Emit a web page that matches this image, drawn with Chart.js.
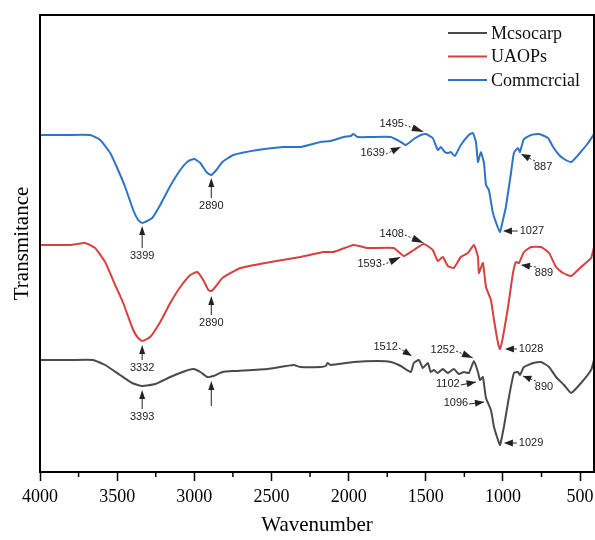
<!DOCTYPE html>
<html>
<head>
<meta charset="utf-8">
<script src="https://cdn.jsdelivr.net/npm/chart.js@4.4.0/dist/chart.umd.min.js"></script>
<style>
  html, body { margin: 0; padding: 0; background: #fff; }
  #wrap { width: 595px; height: 540px; }
</style>
</head>
<body>
<div id="wrap"><canvas id="ftir" width="595" height="540"></canvas></div>
<script>
// wavenumber (cm-1) and stacked transmittance (arbitrary units)
const mesocarpWn = [4000, 3805, 3656, 3578, 3481, 3403, 3338, 3253, 3156, 3058, 3006, 2961, 2916, 2877, 2818, 2747, 2526, 2357, 2312, 2182, 2149, 2136, 2117, 1968, 1812, 1727, 1662, 1597, 1578, 1545, 1519, 1487, 1468, 1448, 1422, 1390, 1357, 1318, 1286, 1253, 1221, 1188, 1162, 1149, 1130, 1110, 1078, 1058, 1032, 1019, 994, 961, 929, 903, 890, 864, 805, 753, 701, 656, 604, 558, 494, 429, 410];
const mesocarpT = [112, 112, 112, 107, 97, 89, 86, 88, 95, 101, 103, 100, 95, 96, 100, 101, 103, 107, 105, 105, 106, 109, 107, 110, 111, 110, 106, 100, 109, 112, 104, 109, 100, 102, 99, 103, 99, 103, 98, 100, 99, 111, 100, 92, 95, 74, 62, 45, 32, 27, 45, 75, 99, 100, 97, 105, 109, 110, 105, 95, 87, 79, 89, 102, 112];

const uaopsWn = [4000, 3805, 3708, 3643, 3578, 3513, 3461, 3396, 3364, 3338, 3286, 3221, 3156, 3091, 3026, 2981, 2942, 2909, 2890, 2864, 2818, 2701, 2506, 2312, 2162, 2097, 1968, 1877, 1708, 1643, 1578, 1513, 1455, 1422, 1390, 1357, 1318, 1273, 1227, 1188, 1162, 1156, 1130, 1110, 1078, 1058, 1032, 1019, 1000, 967, 935, 916, 896, 864, 818, 753, 701, 656, 610, 558, 494, 429, 410];
const uaopsT = [227, 227, 229, 224, 210, 187, 169, 142, 134, 131, 135, 150, 169, 185, 197, 200, 192, 182, 181, 185, 194, 204, 210, 215, 220, 220, 227, 224, 224, 216, 222, 228, 222, 211, 215, 206, 204, 215, 219, 227, 215, 199, 209, 185, 172, 152, 129, 123, 135, 165, 199, 210, 209, 220, 225, 225, 219, 205, 199, 196, 205, 214, 225];

const commercialWn = [4000, 3831, 3675, 3610, 3545, 3494, 3448, 3396, 3364, 3338, 3273, 3221, 3156, 3091, 3039, 3000, 2961, 2922, 2890, 2857, 2818, 2747, 2591, 2422, 2312, 2182, 2117, 2032, 1987, 1968, 1942, 1857, 1727, 1662, 1630, 1578, 1532, 1500, 1455, 1422, 1403, 1377, 1357, 1338, 1312, 1273, 1221, 1195, 1175, 1162, 1143, 1123, 1110, 1091, 1065, 1032, 1019, 1000, 981, 948, 929, 903, 890, 864, 818, 766, 708, 675, 636, 604, 558, 513, 448, 410];
const commercialT = [337, 337, 337, 332, 319, 302, 285, 262, 252, 249, 254, 267, 286, 302, 311, 313, 309, 300, 297, 302, 310, 317, 322, 325, 325, 330, 331, 335, 336, 338, 335, 335, 335, 330, 327, 333, 337, 338, 334, 322, 325, 320, 319, 320, 316, 327, 337, 339, 330, 310, 320, 309, 287, 282, 259, 244, 240, 252, 265, 299, 319, 324, 320, 333, 337, 338, 334, 325, 317, 313, 310, 317, 329, 338];

const seriesNames = ["Mcsocarp", "UAOPs", "Commcrcial"];
const seriesColors = ["#4a4a4a", "#d8403f", "#2f74c4"];

const xTicks = [4000, 3500, 3000, 2500, 2000, 1500, 1000, 500];
const xMinorTicks = [3750, 3250, 2750, 2250, 1750, 1250, 750];

// peak labels: text, arrow tip (wn, T), label position (wn, T), arrow kind
const peakText = ["3399", "2890", "1495", "1639", "1027", "887",
                  "3332", "2890", "1408", "1593", "1028", "889",
                  "3393", "", "1512", "1252", "1102", "1096", "1029", "890"];
const peakTipWn = [3338, 2890, 1513, 1662, 1000, 883,
                   3338, 2890, 1513, 1662, 987, 883,
                   3338, 2890, 1591, 1195, 1175, 1123, 994, 870];
const peakTipT = [246, 294, 340, 325, 241, 318,
                  127, 176, 229, 215, 123, 207,
                  82, 91, 116, 114, 90, 70, 29, 96];
const peakTextWn = [3338, 2890, 1721, 1844, 812, 740,
                    3338, 2890, 1721, 1864, 818, 734,
                    3338, 2890, 1760, 1390, 1357, 1305, 818, 734];
const peakTextT = [216, 266, 348, 319, 241, 305,
                   104, 149, 238, 208, 123, 199,
                   55, 66, 125, 122, 88, 69, 29, 85];
const peakKind = ["up", "up", "dash", "dash", "left", "dash",
                  "up", "up", "dash", "dash", "left", "dash",
                  "up", "up", "dash", "dash", "solid", "solid", "left", "dash"];

const toPoints = (wn, t) => wn.map((w, i) => ({ x: w, y: t[i] }));

function arrowHead(ctx, x0, y0, x1, y1, len, half) {
    const a = Math.atan2(y1 - y0, x1 - x0);
    ctx.beginPath();
    ctx.moveTo(x1, y1);
    ctx.lineTo(x1 - len * Math.cos(a) + half * Math.sin(a), y1 - len * Math.sin(a) - half * Math.cos(a));
    ctx.lineTo(x1 - len * Math.cos(a) - half * Math.sin(a), y1 - len * Math.sin(a) + half * Math.cos(a));
    ctx.closePath();
    ctx.fill();
}

const decorPlugin = {
    id: "decor",
    afterDatasetsDraw(chart) {
        const { ctx, chartArea: a, scales } = chart;
        const xs = scales.x, ys = scales.y;
        ctx.save();

        // frame
        ctx.strokeStyle = "#000";
        ctx.lineWidth = 2;
        ctx.strokeRect(a.left, a.top, a.right - a.left, a.bottom - a.top);

        // minor ticks
        ctx.lineWidth = 1.5;
        xMinorTicks.forEach((v) => {
            const px = xs.getPixelForValue(v);
            ctx.beginPath();
            ctx.moveTo(px, a.bottom);
            ctx.lineTo(px, a.bottom + 5);
            ctx.stroke();
        });

        // legend
        ctx.font = "18px 'Liberation Serif', 'Times New Roman', serif";
        ctx.textBaseline = "middle";
        ctx.textAlign = "left";
        chart.data.datasets.forEach((ds, i) => {
            const y = a.top + 18 + i * 23.5;
            ctx.strokeStyle = ds.borderColor;
            ctx.lineWidth = 2;
            ctx.beginPath();
            ctx.moveTo(448, y);
            ctx.lineTo(487, y);
            ctx.stroke();
            ctx.fillStyle = "#111";
            ctx.fillText(ds.label, 491, y + 1);
        });

        // peak annotations
        ctx.font = "11px 'Liberation Sans', Arial, sans-serif";
        ctx.fillStyle = "#222";
        ctx.strokeStyle = "#222";
        peakText.forEach((txt, i) => {
            const tx = xs.getPixelForValue(peakTipWn[i]);
            const ty = ys.getPixelForValue(peakTipT[i]);
            const lx = xs.getPixelForValue(peakTextWn[i]);
            const ly = ys.getPixelForValue(peakTextT[i]);
            const w = ctx.measureText(txt).width;
            let sx, sy;
            ctx.lineWidth = 1;
            ctx.setLineDash([]);
            ctx.textAlign = "center";
            ctx.fillText(txt, lx, ly);
            if (peakKind[i] === "up") {
                sx = tx; sy = txt ? ly - 8 : ly;
                ctx.beginPath(); ctx.moveTo(sx, sy); ctx.lineTo(tx, ty + 6); ctx.stroke();
                arrowHead(ctx, sx, sy, tx, ty, 9, 3);
            } else if (peakKind[i] === "left") {
                sx = lx - w / 2 - 2; sy = ly;
                ctx.beginPath(); ctx.moveTo(sx, sy); ctx.lineTo(tx + 6, ty); ctx.stroke();
                arrowHead(ctx, sx, sy, tx, ty, 9, 3.5);
            } else {
                if (tx > lx) { sx = lx + w / 2 + 1; sy = ly + 1; }
                else { sx = lx - w / 2 + 1; sy = ly - 6; }
                if (peakKind[i] === "dash") ctx.setLineDash([2, 2]);
                ctx.beginPath(); ctx.moveTo(sx, sy); ctx.lineTo(tx, ty); ctx.stroke();
                ctx.setLineDash([]);
                const d = Math.hypot(tx - sx, ty - sy);
                arrowHead(ctx, sx, sy, tx, ty, Math.min(12, d * 0.6), 3.5);
            }
        });

        ctx.restore();
    }
};

const ctx = document.getElementById("ftir").getContext("2d");

new Chart(ctx, {
    type: "line",
    data: {
        datasets: [
            { label: seriesNames[0], data: toPoints(mesocarpWn, mesocarpT), borderColor: seriesColors[0] },
            { label: seriesNames[1], data: toPoints(uaopsWn, uaopsT), borderColor: seriesColors[1] },
            { label: seriesNames[2], data: toPoints(commercialWn, commercialT), borderColor: seriesColors[2] },
        ],
    },
    options: {
        responsive: false,
        animation: false,
        parsing: false,
        elements: {
            point: { radius: 0 },
            line: { borderWidth: 2, tension: 0.15, fill: false },
        },
        layout: { padding: { top: 15, right: 1, left: 0, bottom: 0 } },
        plugins: {
            legend: { display: false },
            tooltip: { enabled: false },
        },
        scales: {
            x: {
                type: "linear",
                reverse: true,
                min: 410,
                max: 4000,
                afterBuildTicks: (scale) => {
                    scale.ticks = xTicks.map((v) => ({ value: v }));
                },
                afterFit: (scale) => {
                    scale.height = 68;
                    scale.paddingRight = 0;
                    scale.paddingLeft = 0;
                },
                grid: { drawOnChartArea: false, tickLength: 9, tickColor: "#000", tickWidth: 1.5 },
                border: { display: true, color: "#000", width: 2 },
                ticks: {
                    color: "#000",
                    padding: 5,
                    maxRotation: 0,
                    callback: (v) => String(v),
                    font: { family: "'Liberation Serif', 'Times New Roman', serif", size: 18 },
                },
                title: {
                    display: true,
                    text: "Wavenumber",
                    color: "#000",
                    padding: { top: 0, bottom: 2 },
                    font: { family: "'Liberation Serif', 'Times New Roman', serif", size: 21 },
                },
            },
            y: {
                min: 0,
                max: 457,
                afterFit: (scale) => { scale.width = 40; },
                grid: { display: false, drawTicks: false },
                border: { display: true, color: "#000", width: 2 },
                ticks: { display: false },
                title: {
                    display: true,
                    text: "Transmitance",
                    color: "#000",
                    padding: { top: 10, bottom: 0 },
                    font: { family: "'Liberation Serif', 'Times New Roman', serif", size: 21 },
                },
            },
        },
    },
    plugins: [decorPlugin],
});
</script>
</body>
</html>
